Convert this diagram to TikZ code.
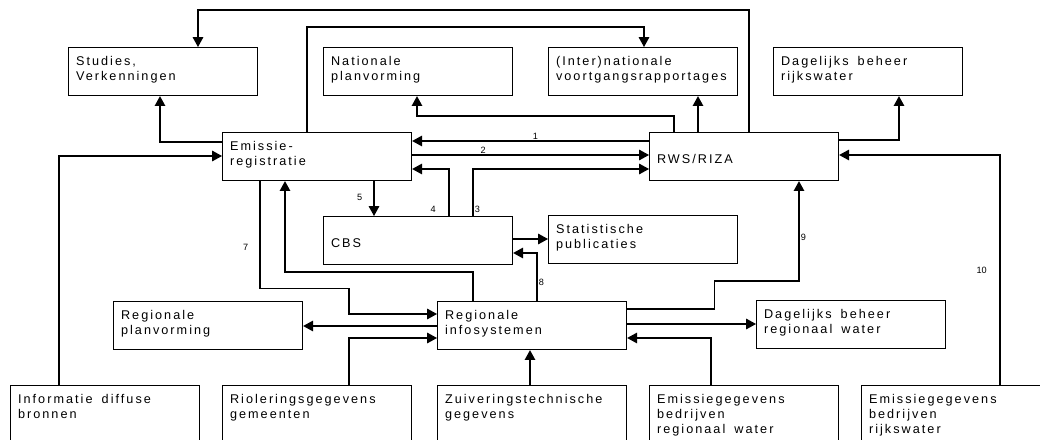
\documentclass[tikz,border=0pt]{standalone}
\usepackage{fontspec}
\newfontfamily\boxfont{Liberation Sans}[LetterSpace=16]
\newfontfamily\lblfont{Liberation Sans}
\newcommand\wordgap{\hspace{3.5pt}}
\usetikzlibrary{arrows.meta,calc}

\begin{document}
\begin{tikzpicture}[
  x=0.025cm, y=-0.025cm,
  box/.style={draw, thick, anchor=north west, align=left, text width=4.35cm,
    inner xsep=0.1875cm, inner ysep=0pt, text height=0.45cm, text depth=0.75cm,
    font=\boxfont\fontsize{9}{10.7}\selectfont},
  onebox/.style={box, text height=0.78cm, text depth=0.42cm},
  lowbox/.style={box, text height=0.45cm, text depth=2cm},
  arr/.style={-{Triangle[length=7pt,width=7.5pt]}, thick},
  lbl/.style={font=\lblfont\fontsize{6.5}{7}\selectfont, inner sep=1pt}
]
\useasboundingbox (0,0) rectangle (1040,440);
\clip (0,0) rectangle (1040,440);

% top row
\node[box] (studies) at (68,47) {Studies,\\Verkenningen};
\node[box] (natplan) at (323,47) {Nationale\\planvorming};
\node[box] (intrap) at (548,47) {(Inter)nationale\\voortgangsrapportages};
\node[box] (dagrijk) at (773,47) {Dagelijks \wordgap beheer\\rijkswater};

% middle
\node[box] (emissie) at (222,132) {Emissie-\\registratie};
\node[onebox] (rws) at (649,132) {RWS/RIZA};
\node[onebox] (cbs) at (323,216) {CBS};
\node[box] (stat) at (548,215) {Statistische\\publicaties};
\node[box] (regplan) at (113,301) {Regionale\\planvorming};
\node[box] (regsys) at (437,301) {Regionale\\infosystemen};
\node[box] (dagreg) at (756,300) {Dagelijks \wordgap beheer\\regionaal \wordgap water};

% bottom row
\node[lowbox] (diffuus) at (10,385) {Informatie \wordgap diffuse\\bronnen};
\node[lowbox] (riool) at (222,385) {Rioleringsgegevens\\gemeenten};
\node[lowbox] (zuiv) at (437,385) {Zuiveringstechnische\\gegevens};
\node[lowbox] (emreg) at (649,385) {Emissiegegevens\\bedrijven\\regionaal \wordgap water};
\node[lowbox] (emrijk) at (861,385) {Emissiegegevens\\bedrijven\\rijkswater};

% flows to the top row
\draw[arr] ($(rws.north west)+(100,0)$) -- ++(0,-122) -| ($(studies.north west)+(130,0)$);
\draw[arr] ($(emissie.north west)+(85,0)$) -- ++(0,-105) -| ($(intrap.north west)+(96,0)$);
\draw[arr] ($(rws.north west)+(25,0)$) -- ++(0,-16) -| ($(natplan.south west)+(94,0)$);
\draw[arr] ($(rws.north west)+(49,0)$) -- ($(intrap.south west)+(150,0)$);
\draw[arr] ($(rws.north east)+(0,8)$) -| ($(dagrijk.south west)+(126,0)$);
\draw[arr] ($(emissie.north west)+(0,10)$) -| ($(studies.south west)+(92,0)$);
\draw[arr] ($(diffuus.north west)+(49,0)$) |- ($(emissie.north west)+(0,24)$);

% numbered flows
\draw[arr] ($(rws.north west)+(0,9)$) -- node[lbl, above, pos=0.48] {1} ($(emissie.north east)+(0,9)$);
\draw[arr] ($(emissie.north east)+(0,23)$) -- node[lbl, above, pos=0.3] {2} ($(rws.north west)+(0,23)$);
\draw[arr] ($(cbs.north west)+(126,0)$) |- node[lbl, left=8pt, pos=0.07] {4} ($(emissie.north east)+(0,37)$);
\draw[arr] ($(cbs.north west)+(150,0)$) |- node[lbl, right, pos=0.07] {3} ($(rws.north west)+(0,37)$);
\draw[arr] ($(emissie.south west)+(152,0)$) -- node[lbl, left=7pt, pos=0.47] {5} ($(cbs.north west)+(51,0)$);
\draw[arr] ($(emissie.south west)+(38,0)$) -- node[lbl, left=7pt, pos=0.62] {7} ++(0,107) -- ++(89,0) |- ($(regsys.north west)+(0,13)$);
\draw[arr] ($(regsys.north west)+(36,0)$) -- ++(0,-29) -| ($(emissie.south west)+(63,0)$);
\draw[arr] ($(regsys.north west)+(100,0)$) |- node[lbl, right, pos=0.19] {8} ($(cbs.north east)+(0,37)$);
\draw[arr] ($(regsys.north east)+(0,8)$) -- ++(87,0) -- ++(0,-28) -| node[lbl, right, pos=0.72] {9} ($(rws.south west)+(150,0)$);
\draw[arr] ($(emrijk.north west)+(139,0)$) |- node[lbl, left=8pt, pos=0.25] {10} ($(rws.north east)+(0,23)$);

% regional flows
\draw[arr] ($(cbs.north east)+(0,23)$) -- ($(stat.north west)+(0,24)$);
\draw[arr] ($(regsys.north west)+(0,25)$) -- ($(regplan.north east)+(0,25)$);
\draw[arr] ($(riool.north west)+(127,0)$) |- ($(regsys.north west)+(0,37)$);
\draw[arr] ($(regsys.north east)+(0,23)$) -- ($(dagreg.north west)+(0,24)$);
\draw[arr] ($(emreg.north west)+(62,0)$) |- ($(regsys.north east)+(0,37)$);
\draw[arr] ($(zuiv.north west)+(93,0)$) -- ($(regsys.south west)+(93,0)$);
\end{tikzpicture}
\end{document}
